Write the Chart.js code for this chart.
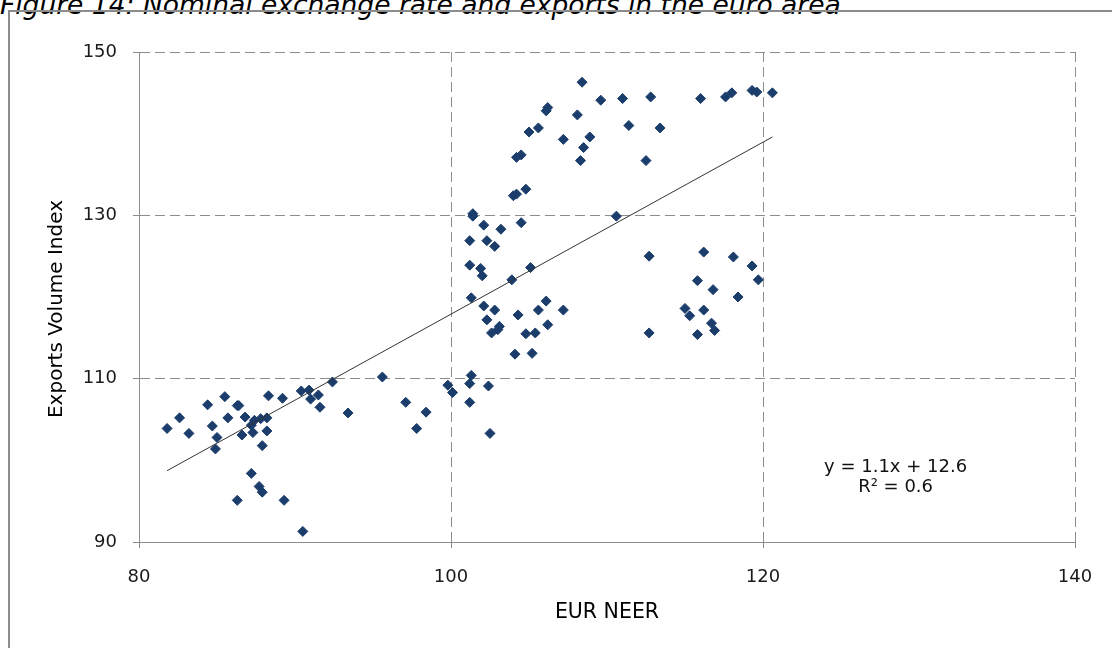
<!DOCTYPE html>
<html><head><meta charset="utf-8">
<script src="https://cdn.jsdelivr.net/npm/chart.js@4/dist/chart.umd.min.js"></script>
<style>
html,body{margin:0;padding:0;background:#fff;overflow:hidden;}
#wrap{position:relative;width:1112px;height:648px;background:#fff;}
#title{position:absolute;left:0;top:-11px;font:italic 26.5px "DejaVu Sans";color:#000;white-space:nowrap;}
#frame{position:absolute;left:8px;top:10px;width:1112px;height:650px;border:2px solid #8c8c8c;box-sizing:border-box;}
canvas{position:absolute;left:0;top:0;}
</style></head><body>
<div id="wrap">
<div id="title">Figure 14: Nominal exchange rate and exports in the euro area</div>
<div id="frame"></div>
<canvas id="c" width="1112" height="648"></canvas>
</div>
<script>
// EUR NEER (x) and Exports Volume Index (y)
const neer = [
 81.8,82.6,83.2,84.4,84.7,85.0,84.9,85.5,85.7,86.3,86.4,86.6,86.8,87.2,87.3,87.4,87.8,88.2,88.2,87.9,
 88.3,89.2,90.4,90.9,91.0,91.5,91.6,92.4,93.4,87.2,87.7,87.9,86.3,89.3,90.5,
 95.6,97.1,98.4,97.8,99.8,100.1,
 104.2,104.0,104.8,101.4,101.4,102.1,103.2,104.5,101.2,102.3,102.8,101.2,101.9,102.0,105.1,103.9,
 101.3,102.1,102.8,106.1,105.6,107.2,104.3,102.3,103.1,103.0,102.6,106.2,104.8,105.4,104.1,105.2,
 101.3,101.2,102.4,101.2,102.5,106.2,106.1,105.6,105.0,104.5,104.2,110.6,
 108.4,109.6,111.0,112.8,116.0,117.6,118.0,119.3,119.6,120.6,108.1,111.4,113.4,107.2,108.9,108.5,108.3,112.5,
 112.7,116.2,118.1,119.3,115.8,116.8,119.7,118.4,115.0,115.3,116.2,116.7,116.9,115.8,112.7
];
const exportsVol = [
 103.9,105.2,103.3,106.8,104.2,102.8,101.4,107.8,105.2,106.7,106.7,103.1,105.3,104.3,103.4,104.9,105.1,105.2,103.6,101.8,
 107.9,107.6,108.5,108.6,107.5,108.0,106.5,109.6,105.8,98.4,96.8,96.1,95.1,95.1,91.3,
 110.2,107.1,105.9,103.9,109.2,108.3,
 132.6,132.4,133.2,130.2,129.9,128.8,128.3,129.1,126.9,126.9,126.2,123.9,123.5,122.6,123.6,122.1,
 119.9,118.9,118.4,119.5,118.4,118.4,117.8,117.2,116.4,116.0,115.6,116.6,115.5,115.6,113.0,113.1,
 110.4,109.4,109.1,107.1,103.3,143.2,142.8,140.7,140.2,137.4,137.1,129.9,
 146.3,144.1,144.3,144.5,144.3,144.5,145.0,145.3,145.1,145.0,142.3,141.0,140.7,139.3,139.6,138.3,136.7,136.7,
 125.0,125.5,124.9,123.8,122.0,120.9,122.1,120.0,118.6,117.7,118.4,116.8,115.9,115.4,115.6
];
const xTicks = [80, 100, 120, 140];
const yTicks = [90, 110, 130, 150];
// linear trend as drawn in the reference (label rounds slope to 1.1)
const trendSlope = 1.053;
const trendIntercept = 12.6;
const equationLines = ['y = 1.1x + 12.6', 'R\u00B2 = 0.6'];
const equationAt = {x: 128.5, y: [99.2, 96.75]};
const yTitleText = 'Exports Volume Index';

const points = neer.map((v, i) => ({x: v, y: exportsVol[i]}));
const xMin = Math.min(...neer), xMax = Math.max(...neer);
const trend = [{x: xMin, y: trendIntercept + trendSlope * xMin}, {x: xMax, y: trendIntercept + trendSlope * xMax}];

const FONT = '"DejaVu Sans", Verdana, sans-serif';
const GRID = '#8c8c8c';

const textPlugin = {
  id: 'texts',
  afterDraw(chart) {
    const {ctx, scales, chartArea} = chart;
    ctx.save();
    ctx.font = '18px ' + FONT;
    ctx.fillStyle = '#111';
    ctx.textAlign = 'center';
    ctx.textBaseline = 'middle';
    equationLines.forEach((t, i) => {
      ctx.fillText(t, scales.x.getPixelForValue(equationAt.x), scales.y.getPixelForValue(equationAt.y[i]));
    });
    ctx.restore();
    // y axis title
    ctx.save();
    ctx.font = '20px ' + FONT;
    ctx.fillStyle = '#000';
    ctx.textAlign = 'center';
    ctx.textBaseline = 'middle';
    ctx.translate(57, (chartArea.top + chartArea.bottom) / 2 + 12);
    ctx.rotate(-Math.PI / 2);
    ctx.fillText(yTitleText, 0, 0);
    ctx.restore();
  }
};

new Chart(document.getElementById('c'), {
  data: {
    datasets: [
      {type: 'line', data: trend, borderColor: '#333', borderWidth: 1, pointRadius: 0, fill: false, tension: 0},
      {type: 'scatter', data: points, pointStyle: 'rectRot', pointRadius: 5, borderWidth: 1,
       backgroundColor: '#1B3D6B', borderColor: '#1B3D6B'}
    ]
  },
  options: {
    responsive: false, animation: false,
    layout: {padding: {top: 52, right: 37, left: 0, bottom: 0}},
    plugins: {legend: {display: false}, tooltip: {enabled: false}},
    scales: {
      x: {
        type: 'linear', min: 80, max: 140,
        afterBuildTicks: s => { s.ticks = xTicks.map(v => ({value: v})); },
        afterFit: s => { s.height = 106; },
        ticks: {font: {family: FONT, size: 18}, color: '#1a1a1a', padding: 19},
        grid: {color: GRID, tickLength: 6, tickColor: GRID, lineWidth: 1},
        border: {display: true, color: GRID, width: 1, dash: [10, 5]},
        title: {display: true, text: 'EUR NEER', font: {family: FONT, size: 20.5}, color: '#000', padding: {top: 0, bottom: 23}}
      },
      y: {
        type: 'linear', min: 90, max: 150,
        afterBuildTicks: s => { s.ticks = yTicks.map(v => ({value: v})); },
        afterFit: s => { s.width = 139; },
        ticks: {font: {family: FONT, size: 18}, color: '#1a1a1a', padding: 16},
        grid: {color: GRID, tickLength: 6, tickColor: GRID, lineWidth: 1},
        border: {display: true, color: GRID, width: 1, dash: [10, 5]},
        title: {display: false}
      }
    }
  },
  plugins: [textPlugin]
});
</script>
</body></html>
